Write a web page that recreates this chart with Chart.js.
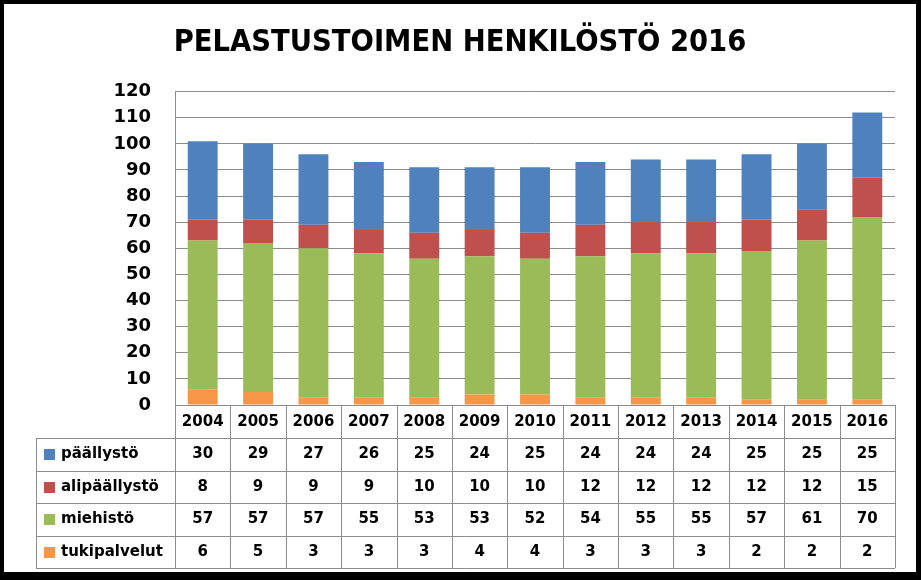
<!DOCTYPE html>
<html>
<head>
<meta charset="utf-8">
<title>Pelastustoimen henkilöstö 2016</title>
<script src="https://cdn.jsdelivr.net/npm/chart.js@4.4.1/dist/chart.umd.min.js"></script>
<style>
  html, body { margin: 0; padding: 0; background: #000; }
  #wrap { position: absolute; left: 4px; top: 4px; width: 912px; height: 568px; background: #fff; }
</style>
</head>
<body>
<div id="wrap"><canvas id="chartCanvas" width="912" height="568"></canvas></div>
<script>
const years = ['2004', '2005', '2006', '2007', '2008', '2009', '2010', '2011', '2012', '2013', '2014', '2015', '2016'];
const paallysto = [30, 29, 27, 26, 25, 24, 25, 24, 24, 24, 25, 25, 25];
const alipaallysto = [8, 9, 9, 9, 10, 10, 10, 12, 12, 12, 12, 12, 15];
const miehisto = [57, 57, 57, 55, 53, 53, 52, 54, 55, 55, 57, 61, 70];
const tukipalvelut = [6, 5, 3, 3, 3, 4, 4, 3, 3, 3, 2, 2, 2];

const gridColor = '#8c8c8c';
const bodyFont = 'DejaVu Sans';

// data table under the x axis (header row is the x tick labels)
const dataTable = {
  id: 'dataTable',
  afterDraw(chart) {
    const ctx = chart.ctx;
    const area = chart.chartArea;
    const xs = chart.scales.x;
    const headerH = 33, rowH = 32.5, tableLeft = 32;
    const catW = (area.right - area.left) / years.length;
    const top = area.bottom + headerH;
    const rows = chart.data.datasets.slice().reverse();
    const bottom = top + rows.length * rowH;

    ctx.save();
    ctx.strokeStyle = gridColor;
    ctx.lineWidth = 1;
    ctx.beginPath();
    for (let i = 0; i <= rows.length; i++) {
      const y = Math.round(top + i * rowH) + 0.5;
      ctx.moveTo(tableLeft, y);
      ctx.lineTo(area.right, y);
    }
    ctx.moveTo(tableLeft + 0.5, top);
    ctx.lineTo(tableLeft + 0.5, bottom);
    for (let k = 0; k <= years.length; k++) {
      const x = Math.round(area.left + k * catW) + 0.5;
      ctx.moveTo(x, area.bottom);
      ctx.lineTo(x, bottom);
    }
    ctx.stroke();

    ctx.font = 'bold 15px "' + bodyFont + '"';
    ctx.fillStyle = '#000';
    ctx.textBaseline = 'middle';
    rows.forEach((ds, r) => {
      const cy = top + r * rowH + rowH / 2;
      ctx.fillStyle = ds.backgroundColor;
      ctx.fillRect(40, Math.round(cy - 5), 11, 11);
      ctx.fillStyle = '#000';
      ctx.textAlign = 'left';
      ctx.fillText(ds.label, 57, cy);
      ctx.textAlign = 'center';
      ds.data.forEach((v, i) => {
        ctx.fillText(String(v), xs.getPixelForValue(i), cy);
      });
    });
    ctx.restore();
  }
};

new Chart(document.getElementById('chartCanvas'), {
  type: 'bar',
  data: {
    labels: years,
    datasets: [
      { label: 'tukipalvelut', data: tukipalvelut, backgroundColor: '#F79646' },
      { label: 'miehistö', data: miehisto, backgroundColor: '#9BBB59' },
      { label: 'alipäällystö', data: alipaallysto, backgroundColor: '#C0504D' },
      { label: 'päällystö', data: paallysto, backgroundColor: '#4F81BD' }
    ]
  },
  options: {
    responsive: false,
    animation: false,
    devicePixelRatio: 1,
    datasets: { bar: { categoryPercentage: 1, barPercentage: 0.54 } },
    layout: { padding: { left: 21, right: 21, top: 0, bottom: 0 } },
    plugins: {
      legend: { display: false },
      tooltip: { enabled: false },
      title: {
        display: true,
        text: 'PELASTUSTOIMEN HENKILÖSTÖ 2016',
        color: '#000',
        font: { family: 'DejaVu Sans Condensed', size: 30.5, weight: 'bold', lineHeight: 1.2 },
        padding: { top: 21, bottom: 30 }
      }
    },
    scales: {
      x: {
        stacked: true,
        grid: { display: false, drawTicks: false },
        border: { display: true, color: gridColor },
        ticks: { color: '#000', padding: 8, font: { family: bodyFont, size: 15, weight: 'bold' } },
        afterFit: (scale) => { scale.height = 167; }
      },
      y: {
        stacked: true,
        min: 0,
        max: 120,
        grid: { color: gridColor, drawTicks: false },
        border: { display: true, color: gridColor },
        ticks: { stepSize: 10, color: '#000', padding: 24, font: { family: bodyFont, size: 18, weight: 'bold' } },
        afterFit: (scale) => { scale.width = 150; }
      }
    }
  },
  plugins: [dataTable]
});
</script>
</body>
</html>
